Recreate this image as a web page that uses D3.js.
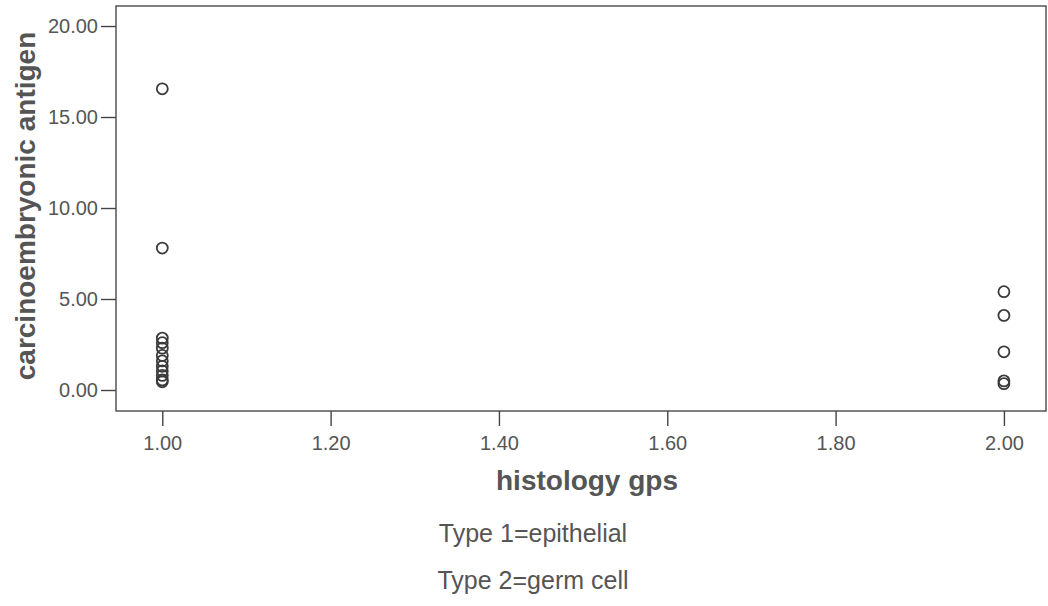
<!DOCTYPE html>
<html>
<head>
<meta charset="utf-8">
<script src="https://cdn.jsdelivr.net/npm/d3@7"></script>
<style>
  html, body { margin: 0; padding: 0; background: #fff; }
  svg text { font-family: "Liberation Sans", Arial, Helvetica, sans-serif; }
</style>
</head>
<body>
<svg id="chart" width="1048" height="606"></svg>
<script>
// histology group 1 (epithelial) and group 2 (germ cell) CEA values
const group1 = [16.55, 7.8, 2.85, 2.6, 2.3, 1.9, 1.6, 1.3, 1.05, 0.8, 0.55, 0.45];
const group2 = [5.4, 4.1, 2.1, 0.5, 0.35];
const groupX = [1.0, 2.0];
const xTicks = [1.0, 1.2, 1.4, 1.6, 1.8, 2.0];
const yTicks = [0, 5, 10, 15, 20];
const notes = ['Type 1=epithelial', 'Type 2=germ cell'];

const svg = d3.select('#chart');
const plotLeft = 116, plotRight = 1046, plotTop = 6, plotBottom = 411;

const x = d3.scaleLinear().domain([0.945, 2.05]).range([plotLeft, plotRight]);
const y = d3.scaleLinear().domain([-1.154, 21.1]).range([plotBottom, plotTop]);

const points = group1.map(v => ({ g: groupX[0], v }))
  .concat(group2.map(v => ({ g: groupX[1], v })));

// frame
svg.append('rect')
  .attr('x', plotLeft).attr('y', plotTop)
  .attr('width', plotRight - plotLeft).attr('height', plotBottom - plotTop)
  .attr('fill', 'none').attr('stroke', '#555').attr('stroke-width', 1.5);

const xAxis = svg.append('g')
  .attr('transform', `translate(0, ${plotBottom})`)
  .call(d3.axisBottom(x).tickValues(xTicks).tickFormat(d3.format('.2f')).tickSize(15).tickPadding(10));

const yAxis = svg.append('g')
  .attr('transform', `translate(${plotLeft}, 0)`)
  .call(d3.axisLeft(y).tickValues(yTicks).tickFormat(d3.format('.2f')).tickSize(15).tickPadding(3));

[xAxis, yAxis].forEach(a => {
  a.select('.domain').remove();
  a.selectAll('line').attr('stroke', '#444').attr('stroke-width', 1.4);
  a.selectAll('text').attr('fill', '#555').style('font-size', '20px');
});

svg.append('g').selectAll('circle')
  .data(points)
  .enter()
  .append('circle')
  .attr('cx', d => x(d.g))
  .attr('cy', d => y(d.v))
  .attr('r', 5.5)
  .attr('fill', 'none')
  .attr('stroke', '#3a3a3a')
  .attr('stroke-width', 1.8);

// axis titles
svg.append('text')
  .attr('x', 587)
  .attr('y', 490)
  .attr('text-anchor', 'middle')
  .attr('fill', '#555')
  .style('font-size', '28px')
  .style('font-weight', 'bold')
  .text('histology gps');

svg.append('text')
  .attr('transform', `translate(35, 206) rotate(-90)`)
  .attr('text-anchor', 'middle')
  .attr('fill', '#555')
  .style('font-size', '28px')
  .style('font-weight', 'bold')
  .text('carcinoembryonic antigen');

svg.append('g').selectAll('text')
  .data(notes)
  .enter()
  .append('text')
  .attr('x', 533)
  .attr('y', (d, i) => 542 + i * 47)
  .attr('text-anchor', 'middle')
  .attr('fill', '#555')
  .style('font-size', '25px')
  .text(d => d);
</script>
</body>
</html>
